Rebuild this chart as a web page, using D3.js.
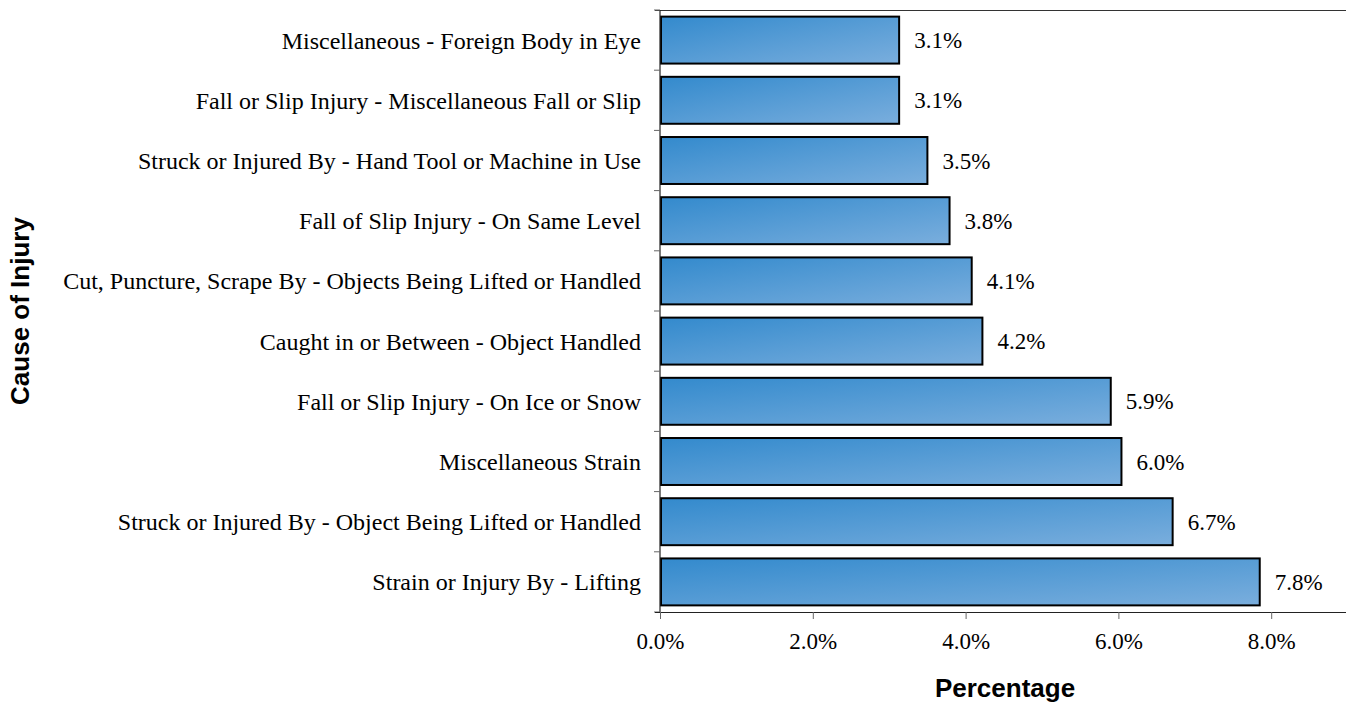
<!DOCTYPE html>
<html><head><meta charset="utf-8">
<script src="https://cdn.jsdelivr.net/npm/d3@7"></script>
<style>body{margin:0;background:#fff}svg{display:block}</style>
</head><body>
<svg id="c" width="1346" height="704"></svg>
<script>
const categories = [
  "Miscellaneous - Foreign Body in Eye",
  "Fall or Slip Injury - Miscellaneous Fall or Slip",
  "Struck or Injured By - Hand Tool or Machine in Use",
  "Fall of Slip Injury - On Same Level",
  "Cut, Puncture, Scrape By - Objects Being Lifted or Handled",
  "Caught in or Between - Object Handled",
  "Fall or Slip Injury - On Ice or Snow",
  "Miscellaneous Strain",
  "Struck or Injured By - Object Being Lifted or Handled",
  "Strain or Injury By - Lifting"
];
const values = [3.13, 3.13, 3.5, 3.79, 4.08, 4.22, 5.9, 6.04, 6.71, 7.85];
const valueLabels = ["3.1%","3.1%","3.5%","3.8%","4.1%","4.2%","5.9%","6.0%","6.7%","7.8%"];
const xTicks = [0, 2, 4, 6, 8];

(function(){
const svg = d3.select("#c");
const mL = 660, mR = 1346, mT = 10, mB = 612;
const serif = "'Liberation Serif', 'Times New Roman', serif";
const sans = "'Liberation Sans', Arial, sans-serif";
const x = d3.scaleLinear().domain([0, 9]).range([mL, mL + 9 * 76.4]);
const y = d3.scaleBand().domain(categories).range([mT, mB]).paddingInner(0.22).paddingOuter(0.11);

const defs = svg.append("defs");
const g = defs.append("linearGradient").attr("id","bg").attr("x1","0").attr("y1","0").attr("x2","1").attr("y2","1");
g.append("stop").attr("offset","0").attr("stop-color","#338acd");
g.append("stop").attr("offset","1").attr("stop-color","#7aaedd");

svg.append("line").attr("x1", mL - 5).attr("x2", mR).attr("y1", mT + 0.5).attr("y2", mT + 0.5)
  .attr("stroke","#333").attr("stroke-width",1);

svg.selectAll("rect.bar").data(categories).enter().append("rect")
  .attr("class","bar")
  .attr("x", x(0) + 1)
  .attr("y", d => y(d))
  .attr("width", (d,i) => x(values[i]) - x(0) - 1)
  .attr("height", y.bandwidth())
  .attr("fill","url(#bg)")
  .attr("stroke","#000").attr("stroke-width",2);

svg.selectAll("text.val").data(categories).enter().append("text")
  .attr("class","val")
  .attr("x", (d,i) => x(values[i]) + 15)
  .attr("y", d => y(d) + y.bandwidth()/2)
  .attr("dy","0.35em")
  .attr("font-family", serif)
  .attr("font-size", 23).attr("fill","#000")
  .text((d,i) => valueLabels[i]);

svg.selectAll("text.cat").data(categories).enter().append("text")
  .attr("class","cat")
  .attr("x", 641)
  .attr("y", d => y(d) + y.bandwidth()/2)
  .attr("dy","0.35em")
  .attr("text-anchor","end")
  .attr("font-family", serif)
  .attr("font-size", 24).attr("fill","#000")
  .text(d => d);

svg.append("line").attr("x1", mL).attr("x2", mL).attr("y1", mT).attr("y2", mB)
  .attr("stroke","#222").attr("stroke-width",1.2);
const step = (mB - mT) / categories.length;
d3.range(categories.length + 1).forEach(i => {
  const yy = mT + i * step;
  svg.append("line").attr("x1", mL - 6).attr("x2", mL).attr("y1", yy).attr("y2", yy)
    .attr("stroke","#666").attr("stroke-width",1);
});

const xa = svg.append("g").attr("transform", `translate(0,${mB})`)
  .call(d3.axisBottom(x).tickValues(xTicks).tickSize(7).tickSizeOuter(0).tickFormat(d => d.toFixed(1) + "%"));
xa.select(".domain").attr("stroke","#222").attr("d", `M${mL-5},0.5H${mR}`);
xa.selectAll(".tick line").attr("stroke","#666");
xa.selectAll("text").attr("font-family", serif)
  .attr("font-size", 23).attr("fill","#000").attr("y", 37).attr("dy", "0");

svg.append("text").attr("x", 1005).attr("y", 697).attr("text-anchor","middle")
  .attr("font-family", sans).attr("font-weight","bold")
  .attr("font-size", 26).text("Percentage");
svg.append("text").attr("transform","translate(29,311) rotate(-90)").attr("text-anchor","middle")
  .attr("font-family", sans).attr("font-weight","bold")
  .attr("font-size", 26).text("Cause of Injury");
})();
</script>
</body></html>
